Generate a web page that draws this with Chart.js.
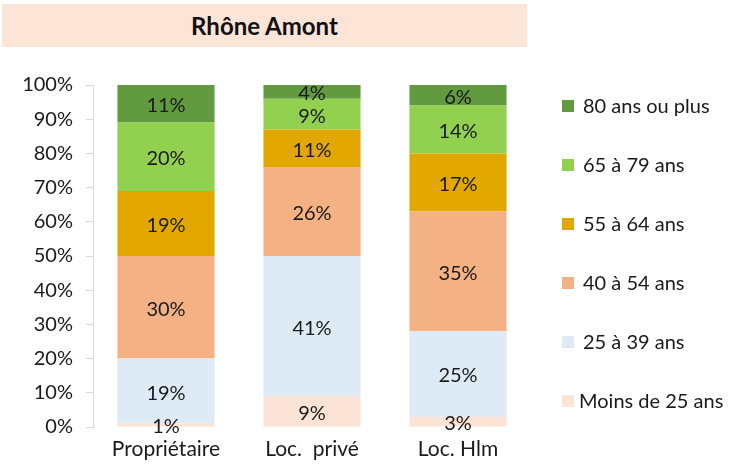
<!DOCTYPE html>
<html>
<head>
<meta charset="utf-8">
<script src="https://cdn.jsdelivr.net/npm/chart.js@4"></script>
<style>
  html, body { margin: 0; padding: 0; background: #fff; }
  #wrap { position: relative; width: 730px; height: 464px; overflow: hidden; }
  #title { position: absolute; left: 2px; top: 4px; width: 525px; height: 43px; background: #fce4d6;
           font-family: Lato, sans-serif; font-weight: bold; font-size: 24px; color: #111;
           display: flex; align-items: center; justify-content: center; }
  canvas { position: absolute; left: 0; top: 0; }
</style>
</head>
<body>
<div id="wrap">
  <canvas id="c" width="730" height="464"></canvas>
  <div id="title">Rhône Amont</div>
</div>
<script>
const categories = ["Propriétaire", "Loc.  privé", "Loc. Hlm"];
const seriesNames = ["Moins de 25 ans", "25 à 39 ans", "40 à 54 ans", "55 à 64 ans", "65 à 79 ans", "80 ans ou plus"];
const moins25 = [1, 9, 3];
const a25_39 = [19, 41, 25];
const a40_54 = [30, 26, 35];
const a55_64 = [19, 11, 17];
const a65_79 = [20, 9, 14];
const a80plus = [11, 4, 6];
const yTicks = [0, 10, 20, 30, 40, 50, 60, 70, 80, 90, 100];
const colors = ["#fbe4d6", "#deeaf6", "#f4b183", "#e2a800", "#92d050", "#629a3f"];

const values = [moins25, a25_39, a40_54, a55_64, a65_79, a80plus];
const FONT = "Lato, 'Open Sans', sans-serif";

const labelPlugin = {
  id: 'segLabels',
  afterDatasetsDraw(chart) {
    const ctx = chart.ctx;
    ctx.save();
    ctx.font = "20px " + FONT;
    ctx.fillStyle = "#1a1a1a";
    ctx.textAlign = "center";
    ctx.textBaseline = "middle";
    chart.data.datasets.forEach((ds, i) => {
      const meta = chart.getDatasetMeta(i);
      meta.data.forEach((bar, j) => {
        const v = ds.data[j];
        const y = (bar.y + bar.base) / 2 + 2;
        ctx.fillText(v + "%", bar.x, y);
      });
    });
    ctx.restore();
  }
};

const legendPlugin = {
  id: 'customLegend',
  afterDraw(chart) {
    const ctx = chart.ctx;
    ctx.save();
    ctx.font = "20px " + FONT;
    ctx.textBaseline = "middle";
    ctx.textAlign = "left";
    const ds = chart.data.datasets;
    const n = ds.length;
    const top = 106, step = 59;
    for (let k = 0; k < n; k++) {
      const d = ds[n - 1 - k];
      const y = top + k * step;
      ctx.fillStyle = d.backgroundColor;
      ctx.fillRect(562, y - 6, 12, 12);
      ctx.fillStyle = "#1a1a1a";
      const x = (k === n - 1) ? 579 : 583;
      ctx.fillText(d.label, x, y + 1);
    }
    ctx.restore();
  }
};

new Chart(document.getElementById('c'), {
  type: 'bar',
  data: {
    labels: categories,
    datasets: seriesNames.map((name, i) => ({
      label: name,
      data: values[i],
      backgroundColor: colors[i],
      borderWidth: 0,
      categoryPercentage: 1,
      barPercentage: 0.665
    }))
  },
  options: {
    responsive: false,
    animation: false,
    devicePixelRatio: 1,
    layout: { padding: { top: 85, right: 199, left: 0, bottom: 0 } },
    plugins: {
      legend: { display: false },
      tooltip: { enabled: false },
      title: { display: false }
    },
    scales: {
      x: {
        stacked: true,
        grid: { display: false },
        border: { display: false },
        ticks: { color: "#1a1a1a", font: { family: FONT, size: 21 }, padding: 2, maxRotation: 0 },
        afterFit(s) { s.height = 37; }
      },
      y: {
        stacked: true,
        min: 0, max: 100,
        afterBuildTicks(s) { s.ticks = yTicks.map(v => ({ value: v })); },
        grid: { drawOnChartArea: false, color: "#d9d9d9", tickLength: 7 },
        border: { display: true, color: "#d9d9d9" },
        ticks: { color: "#1a1a1a", font: { family: FONT, size: 20 }, padding: 13, callback: v => v + "%" },
        afterFit(s) { s.width = 93; }
      }
    }
  },
  plugins: [labelPlugin, legendPlugin]
});
</script>
</body>
</html>
